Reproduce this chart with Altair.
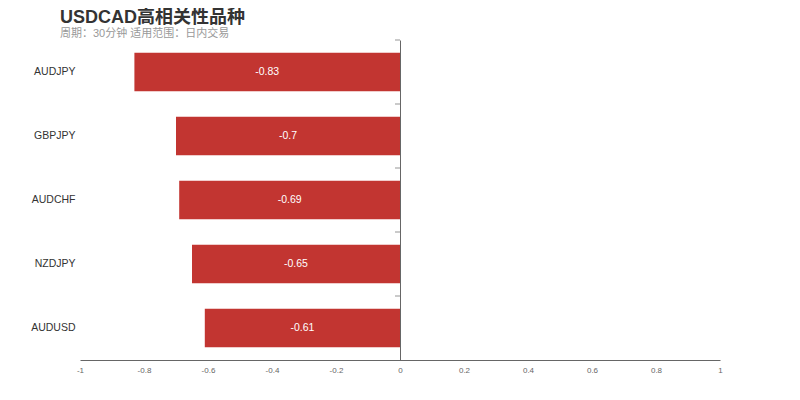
import altair as alt
import pandas as pd

title_text = "USDCAD高相关性品种"
subtitle_text = "周期：30分钟 适用范围：日内交易"
symbols = ["AUDJPY", "GBPJPY", "AUDCHF", "NZDJPY", "AUDUSD"]
correlations = [-0.83, -0.7, -0.69, -0.65, -0.61]
x_ticks = [-1, -0.8, -0.6, -0.4, -0.2, 0, 0.2, 0.4, 0.6, 0.8, 1]

df = pd.DataFrame({"symbol": symbols, "corr": correlations})
title_df = pd.DataFrame({"t": [title_text], "s": [subtitle_text]})

y_scale = alt.Scale(domain=symbols, paddingInner=0.4, paddingOuter=0.2)
x_scale = alt.Scale(domain=[-1, 1], nice=False)

x_axis = alt.Axis(
    values=x_ticks, labelExpr="'' + datum.value", ticks=False, grid=False,
    domainColor="#666", labelColor="#666", labelFontSize=8, labelPadding=6,
    labelFont="Liberation Sans", title=None, labelFlush=False,
)

base = alt.Chart(df)

bars = base.mark_bar(color="#c23531").encode(
    x=alt.X("corr:Q", scale=x_scale, axis=x_axis),
    y=alt.Y("symbol:N", scale=y_scale, sort=symbols,
            axis=alt.Axis(orient="left", domain=False, ticks=False, labelPadding=5,
                          labelFontSize=10.5, labelColor="#333", labelFont="Liberation Sans",
                          title=None, grid=False)),
)

zero_axis = base.mark_bar(opacity=0).encode(
    x=alt.X("corr:Q", scale=x_scale, axis=x_axis),
    y=alt.Y("symbol:N", scale=y_scale, sort=symbols,
            axis=alt.Axis(orient="left", offset=-320, labels=False, ticks=False,
                          domainColor="#666", title=None, grid=False)),
)

# small ticks on the zero line at the band boundaries
band_ticks = base.transform_calculate(zero="0").mark_tick(
    orient="horizontal", size=5, thickness=1, color="#666",
    xOffset=-2.5, yOffset=-12.8,
).encode(
    x=alt.X("zero:Q", scale=x_scale, axis=x_axis),
    y=alt.Y("symbol:N", scale=y_scale, sort=symbols, axis=None, bandPosition=0),
)

labels = base.transform_calculate(
    mid="datum.corr / 2", lab="'' + datum.corr"
).mark_text(
    color="white", fontSize=10.5, font="Liberation Sans"
).encode(
    x=alt.X("mid:Q", scale=x_scale, axis=x_axis),
    y=alt.Y("symbol:N", scale=y_scale, sort=symbols, axis=None),
    text=alt.Text("lab:N"),
)

title_mark = alt.Chart(title_df).mark_text(
    align="left", baseline="alphabetic", fontSize=18, fontWeight="bold",
    color="#333", font="Liberation Sans, Noto Sans CJK SC",
).encode(x=alt.value(-20), y=alt.value(-17), text="t:N")

subtitle_mark = alt.Chart(title_df).mark_text(
    align="left", baseline="alphabetic", fontSize=11,
    color="#999", font="Liberation Sans, Noto Sans CJK SC",
).encode(x=alt.value(-20), y=alt.value(-3), text="s:N")

chart = alt.layer(
    bars, zero_axis, band_ticks, labels, title_mark, subtitle_mark
).resolve_axis(y="independent").properties(
    width=640,
    height=320,
    autosize=alt.AutoSizeParams(type="none"),
    padding={"left": 72, "top": 32, "right": 72, "bottom": 32},
).configure_view(stroke=None)

chart.save("out.html", embed_options={"renderer": "svg", "actions": False})
